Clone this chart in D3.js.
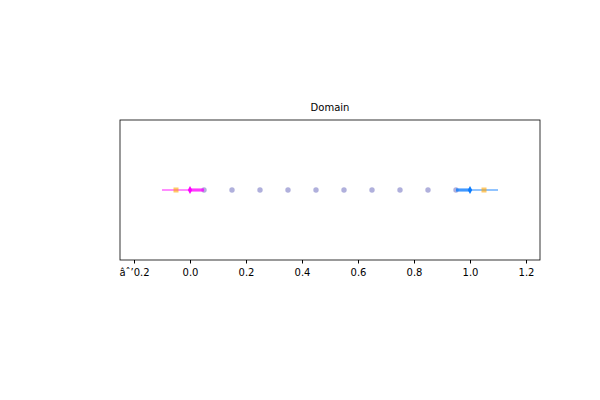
<!DOCTYPE html><html><head><script src="https://cdn.jsdelivr.net/npm/d3@7"></script>
<style>body{margin:0;background:#fff}text{font-family:"DejaVu Sans"}</style></head><body>
<script>
const points=[0.05,0.15,0.25,0.35,0.45,0.55,0.65,0.75,0.85,0.95];
const leftRange=[-0.1,0.05], leftThick=[0,0.05], leftCenter=0, leftSquare=-0.05;
const rightRange=[0.95,1.1], rightThick=[0.95,1.0], rightCenter=1.0, rightSquare=1.05;
const ticks=[-0.2,0,0.2,0.4,0.6,0.8,1.0,1.2];
const svg=d3.select("body").append("svg").attr("width",600).attr("height",400);
const x=d3.scaleLinear().domain([-0.25,1.25]).range([120,540]);
const yc=190;
svg.append("rect").attr("x",120).attr("y",120).attr("width",420).attr("height",140).attr("fill","none").attr("stroke","#000").attr("stroke-width",0.8);
svg.append("g").attr("transform","translate(0,260)").call(d3.axisBottom(x).tickValues(ticks).tickFormat(d3.format(".1f")).tickSize(3.5).tickSizeOuter(0))
 .call(g=>{g.select(".domain").remove();g.selectAll("text").attr("font-size",10).attr("font-family","DejaVu Sans").attr("dy","0.9em");});
svg.append("text").attr("x",330).attr("y",111).attr("text-anchor","middle").attr("font-size",10).text("Domain");
function side(r,t,c,s,col){
 svg.append("line").attr("x1",x(r[0])).attr("x2",x(r[1])).attr("y1",yc).attr("y2",yc).attr("stroke",col).attr("stroke-opacity",0.6).attr("stroke-width",1.5);
 svg.append("line").attr("x1",x(t[0])).attr("x2",x(t[1])).attr("y1",yc).attr("y2",yc).attr("stroke",col).attr("stroke-opacity",0.6).attr("stroke-width",3.5);
 svg.append("rect").attr("x",x(s)-2.5).attr("y",yc-2.5).attr("width",5).attr("height",5).attr("fill","orange").attr("opacity",0.6);
 svg.append("path").attr("d",`M${x(c)},${yc-4}L${x(c)+2.2},${yc}L${x(c)},${yc+4}L${x(c)-2.2},${yc}Z`).attr("fill",col);
}
svg.selectAll("circle").data(points).join("circle").attr("cx",d=>x(d)).attr("cy",yc).attr("r",2.7).attr("fill","#7070c0").attr("opacity",0.55);
side(leftRange,leftThick,leftCenter,leftSquare,"magenta");
side(rightRange,rightThick,rightCenter,rightSquare,"#0a7cff");
</script></body></html>
